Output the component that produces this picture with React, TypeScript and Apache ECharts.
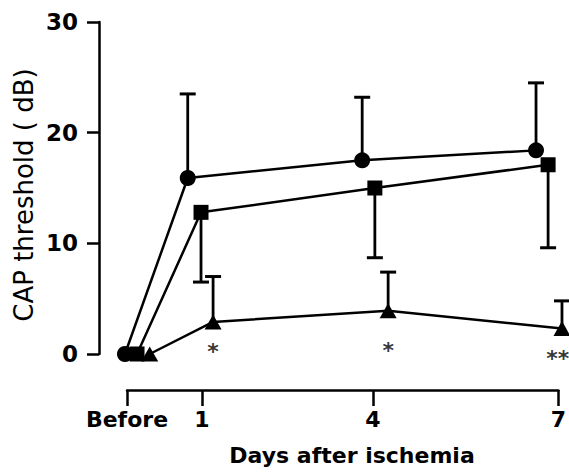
import React, { useEffect, useRef } from "react";
import * as echarts from "echarts";

// x tick positions (day units on the drawn scale) and labels
const xTickPos = [-0.26, 1, 3.88, 7];
const xTickLabels = ["Before", "1", "4", "7"];

// circle series
const circleX = [-0.29, 0.75, 3.64, 6.52];
const circleY = [0, 15.9, 17.5, 18.4];
const circleErr = [0, 7.6, 5.7, 6.1]; // upward

// square series
const squareX = [-0.09, 0.97, 3.85, 6.72];
const squareY = [0, 12.8, 15.0, 17.1];
const squareErr = [0, -6.3, -6.3, -7.5]; // downward

// triangle series
const triangleX = [0.12, 1.17, 4.07, 6.95];
const triangleY = [0, 2.9, 3.9, 2.3];
const triangleErr = [0, 4.1, 3.5, 2.5]; // upward

// significance marks
const starX = [1.17, 4.07, 6.88];
const starY = [0.25, 0.35, -0.45];
const starText = ["*", "*", "**"];

const FONT = "DejaVu Sans";

export default function App() {
  const ref = useRef<HTMLDivElement>(null);

  useEffect(() => {
    if (!ref.current) return;
    const chart = echarts.init(ref.current, undefined, { renderer: "svg" });

    const zip = (xs: number[], ys: number[]) => xs.map((x, i) => [x, ys[i]]);
    const errData: number[][] = [];
    const addErr = (xs: number[], ys: number[], es: number[]) => {
      xs.forEach((x, i) => {
        if (es[i] !== 0) errData.push([x, ys[i], es[i]]);
      });
    };
    addErr(circleX, circleY, circleErr);
    addErr(squareX, squareY, squareErr);
    addErr(triangleX, triangleY, triangleErr);

    const lineCommon = {
      type: "line" as const,
      xAxisIndex: 0,
      yAxisIndex: 0,
      clip: false,
      lineStyle: { color: "#000", width: 2.5 },
      itemStyle: { color: "#000" },
      z: 3,
    };

    chart.setOption({
      animation: false,
      backgroundColor: "#fff",
      grid: [
        { left: 99, right: 4, top: 22, bottom: 120 },
        { left: 127, right: 4, top: 380, bottom: 84 },
      ],
      xAxis: [
        { type: "value", gridIndex: 0, min: -0.72, max: 7, show: false },
        {
          type: "value",
          gridIndex: 1,
          min: -0.26,
          max: 7,
          axisLine: { onZero: false, lineStyle: { color: "#000", width: 2.5 } },
          axisTick: {
            show: true,
            customValues: xTickPos,
            length: 16,
            lineStyle: { color: "#000", width: 2.5 },
          },
          axisLabel: {
            customValues: xTickPos,
            margin: 18,
            color: "#000",
            fontSize: 22,
            fontWeight: "bold",
            fontFamily: FONT,
            formatter: (v: number) => {
              let best = 0;
              xTickPos.forEach((p, i) => {
                if (Math.abs(p - v) < Math.abs(xTickPos[best] - v)) best = i;
              });
              return xTickLabels[best];
            },
          },
          splitLine: { show: false },
        },
      ],
      yAxis: [
        {
          type: "value",
          gridIndex: 0,
          min: 0,
          max: 30,
          interval: 10,
          axisLine: { show: true, onZero: false, lineStyle: { color: "#000", width: 2.5 } },
          axisTick: { show: true, length: 12, lineStyle: { color: "#000", width: 2.5 } },
          axisLabel: {
            margin: 21,
            color: "#000",
            fontSize: 23,
            fontWeight: "bold",
            fontFamily: FONT,
          },
          splitLine: { show: false },
        },
        { type: "value", gridIndex: 1, show: false },
      ],
      graphic: [
        {
          type: "text",
          x: 24,
          y: 195,
          rotation: Math.PI / 2,
          style: {
            text: "CAP threshold ( dB)",
            fontSize: 26,
            fontFamily: FONT,
            fill: "#000",
            align: "center",
            verticalAlign: "middle",
          },
        },
        {
          type: "text",
          x: 352,
          y: 455,
          style: {
            text: "Days after ischemia",
            fontSize: 22,
            fontWeight: "bold",
            fontFamily: FONT,
            fill: "#000",
            align: "center",
            verticalAlign: "middle",
          },
        },
      ],
      series: [
        {
          type: "custom",
          xAxisIndex: 0,
          yAxisIndex: 0,
          clip: false,
          z: 2,
          data: errData,
          renderItem: (params: any, api: any) => {
            const x = api.value(0);
            const y = api.value(1);
            const e = api.value(2);
            const p0 = api.coord([x, y]);
            const p1 = api.coord([x, y + e]);
            return {
              type: "group",
              children: [
                {
                  type: "line",
                  shape: { x1: p0[0], y1: p0[1], x2: p1[0], y2: p1[1] },
                  style: { stroke: "#000", lineWidth: 2.8 },
                },
                {
                  type: "line",
                  shape: { x1: p1[0] - 8, y1: p1[1], x2: p1[0] + 8, y2: p1[1] },
                  style: { stroke: "#000", lineWidth: 3 },
                },
              ],
            };
          },
        },
        { ...lineCommon, data: zip(circleX, circleY), symbol: "circle", symbolSize: 16 },
        { ...lineCommon, data: zip(squareX, squareY), symbol: "rect", symbolSize: 15 },
        { ...lineCommon, data: zip(triangleX, triangleY), symbol: "triangle", symbolSize: [17, 15] },
        {
          type: "scatter",
          xAxisIndex: 0,
          yAxisIndex: 0,
          clip: false,
          symbolSize: 1,
          z: 4,
          itemStyle: { color: "rgba(0,0,0,0)" },
          data: starX.map((x, i) => ({ value: [x, starY[i]], name: starText[i] })),
          label: {
            show: true,
            position: "inside",
            formatter: (p: any) => p.name,
            color: "#000",
            textBorderWidth: 0,
            fontSize: 22,
            fontWeight: "bold",
            fontFamily: FONT,
          },
        },
      ],
    });

    return () => chart.dispose();
  }, []);

  return (
    <div
      ref={ref}
      style={{ position: "fixed", left: 0, top: 0, width: 569, height: 474, background: "#fff" }}
    />
  );
}
